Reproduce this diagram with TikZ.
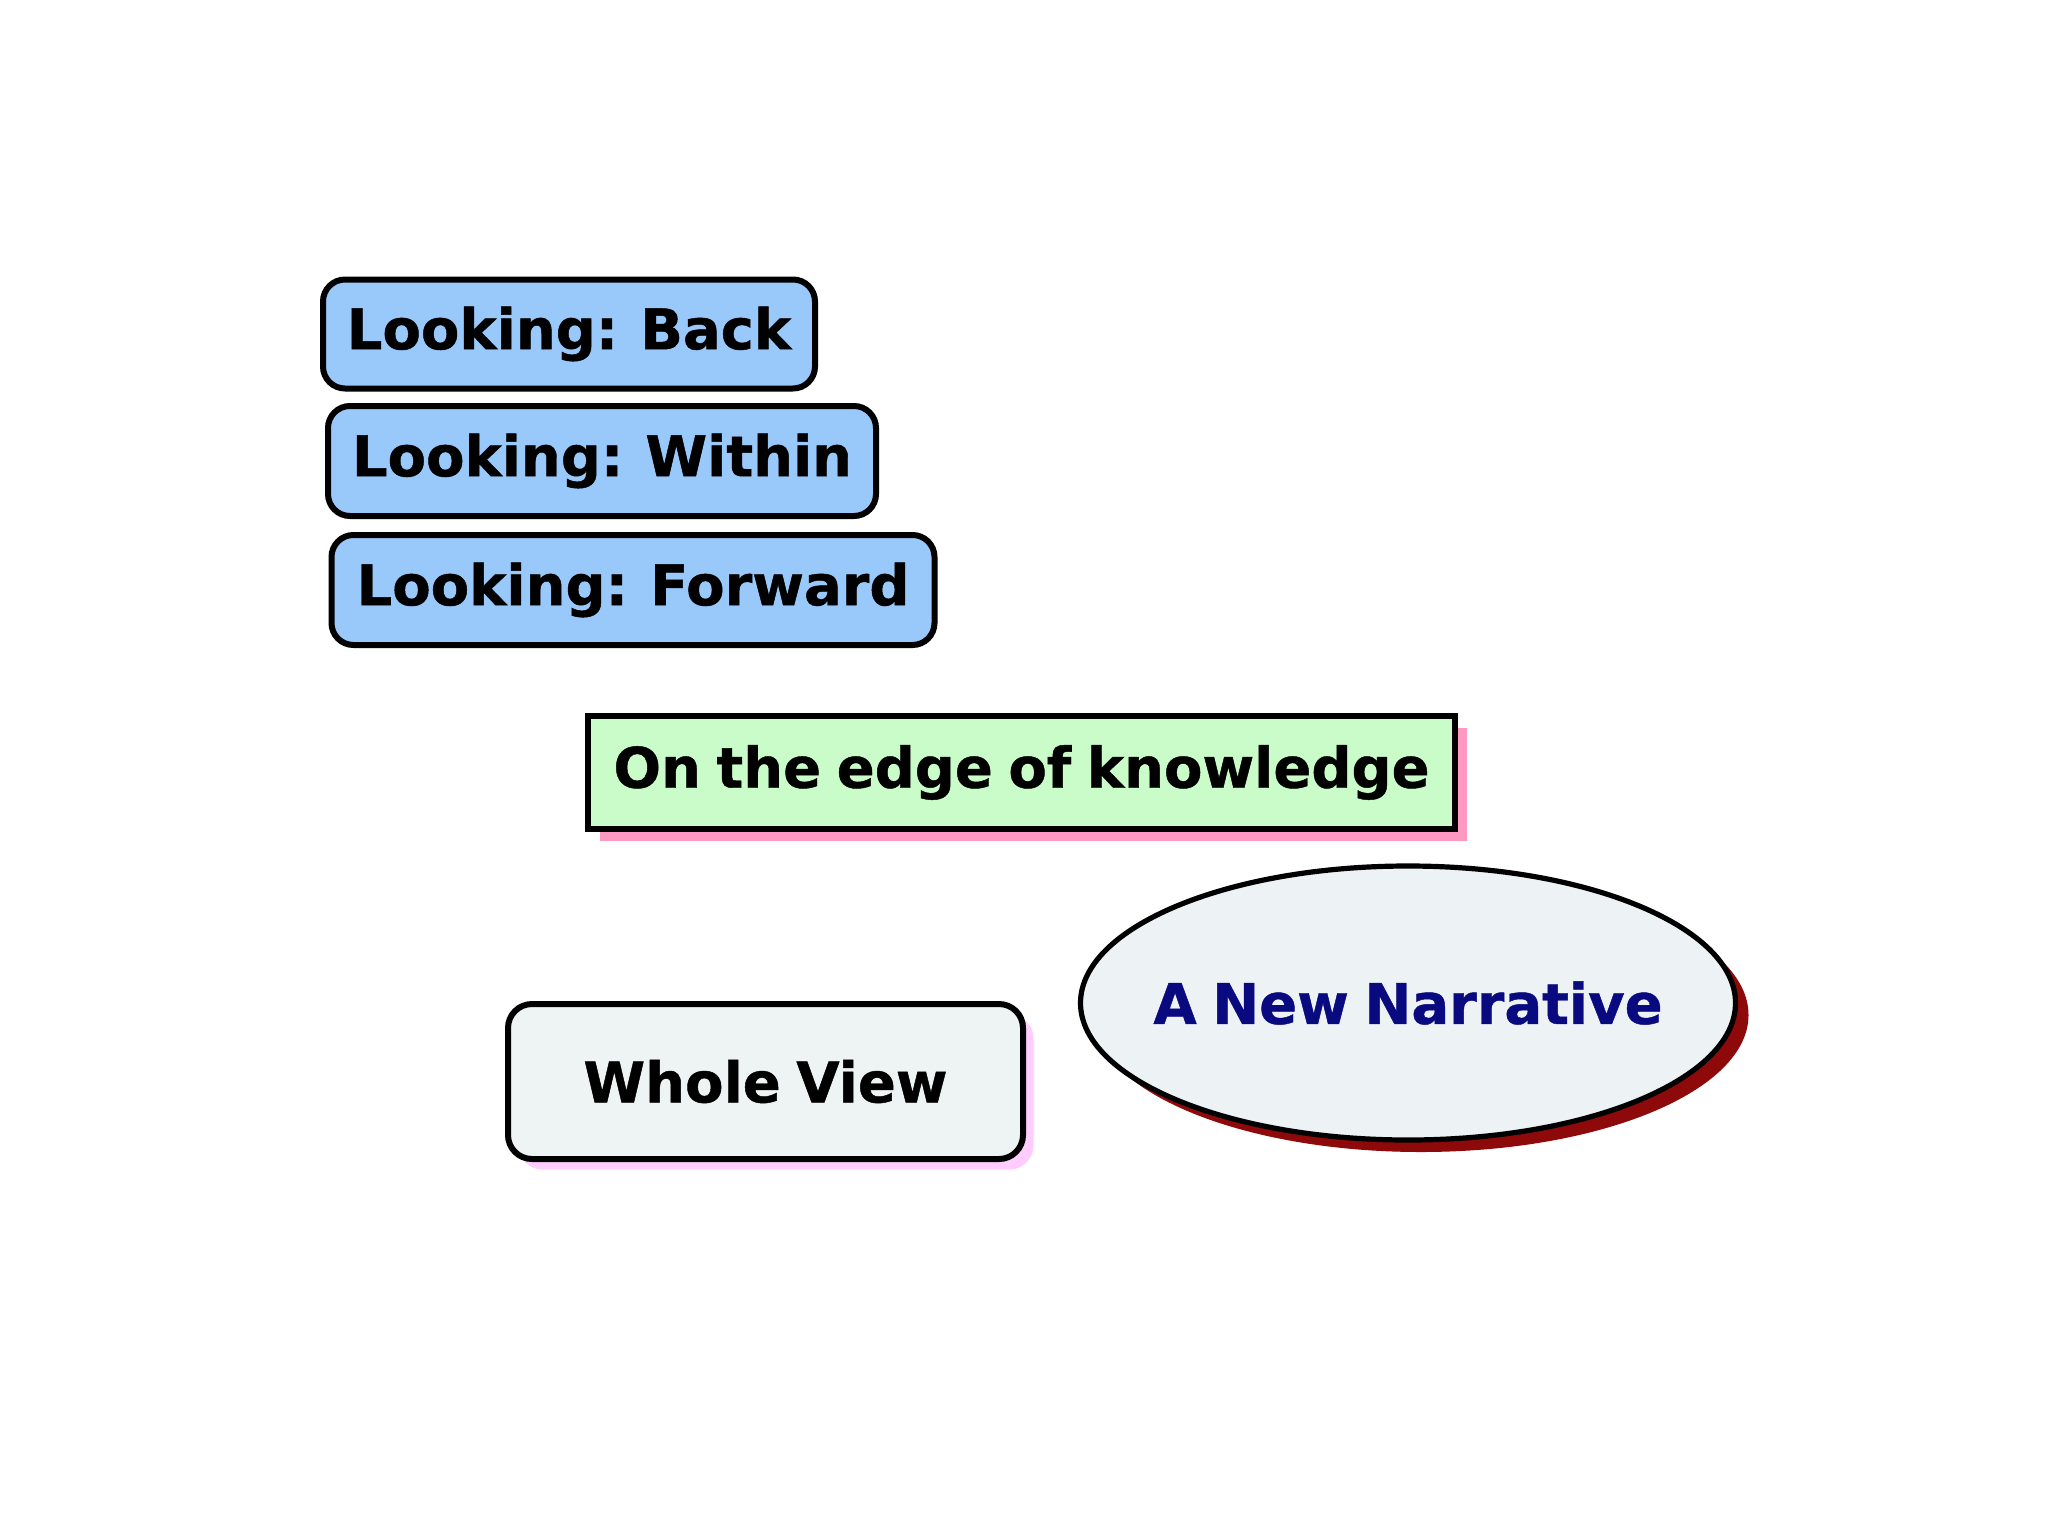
\documentclass[tikz,border=0pt]{standalone}
\usepackage{fontspec}
\setmainfont{DejaVu Sans}
\newfontfamily\heavyfont{DejaVu Sans Bold}[FakeBold=0.8, WordSpace=0.8]
\usetikzlibrary{shapes.geometric}
\definecolor{lookblue}{HTML}{99C9FA}
\definecolor{edgegreen}{HTML}{C9FCC9}
\definecolor{edgeshadow}{HTML}{FF99C2}
\definecolor{wholefill}{HTML}{EEF3F3}
\definecolor{wholeshadow}{HTML}{FFCCFF}
\definecolor{ellfill}{HTML}{EDF2F5}
\definecolor{ellshadow}{HTML}{8E0A0A}
\definecolor{navytext}{HTML}{0A0A80}
\tikzset{
  lbl/.style={font=\heavyfont\fontsize{28}{34}\selectfont, inner sep=0pt},
  lookbox/.style={lbl, draw=black, line width=3pt, fill=lookblue, rounded corners=11pt},
  edgebox/.style={lbl, draw=black, line width=3pt, fill=edgegreen},
  shadowrect/.style={inner sep=0pt, draw=none},
  wholebox/.style={lbl, draw=black, line width=3pt, fill=wholefill, rounded corners=12pt},
  ellshape/.style={ellipse, inner sep=0pt, minimum width=327.5pt, minimum height=137pt},
}
\begin{document}
\begin{tikzpicture}[x=0.5pt, y=-0.5pt]
\useasboundingbox[fill=white] (0,0) rectangle (2048,1536);
% Looking boxes
\node[lookbox, minimum width=246pt, minimum height=54.5pt] (back) at (569,334) {Looking: Back};
\node[lookbox, minimum width=274pt, minimum height=55pt] (within) at (602,461) {Looking: Within};
\node[lookbox, minimum width=301.5pt, minimum height=55pt] (forward) at (633,590) {Looking: Forward};
% On the edge
\node[shadowrect, fill=edgeshadow, minimum width=433.5pt, minimum height=56.5pt] (edgeshadowbox) at (1033.5,784.5) {};
\node[edgebox, minimum width=433.5pt, minimum height=56.5pt] (edge) at (1021.5,772.5) {On the edge of knowledge};
% Whole view
\node[shadowrect, fill=wholeshadow, rounded corners=12pt, minimum width=257.5pt, minimum height=77.5pt] (wholeshadowbox) at (776,1092) {};
\node[wholebox, minimum width=257.5pt, minimum height=77.5pt] (whole) at (765.5,1081.5) {Whole View};
% Ellipse
\node[ellshape, fill=ellshadow] (ellshadowshape) at (1421,1015) {};
\node[ellshape, draw=black, line width=2.6pt, fill=ellfill] (narrative) at (1408,1003) {};
\node[lbl, text=navytext] (narrativetext) at (narrative.center) {A New Narrative};
\end{tikzpicture}
\end{document}
